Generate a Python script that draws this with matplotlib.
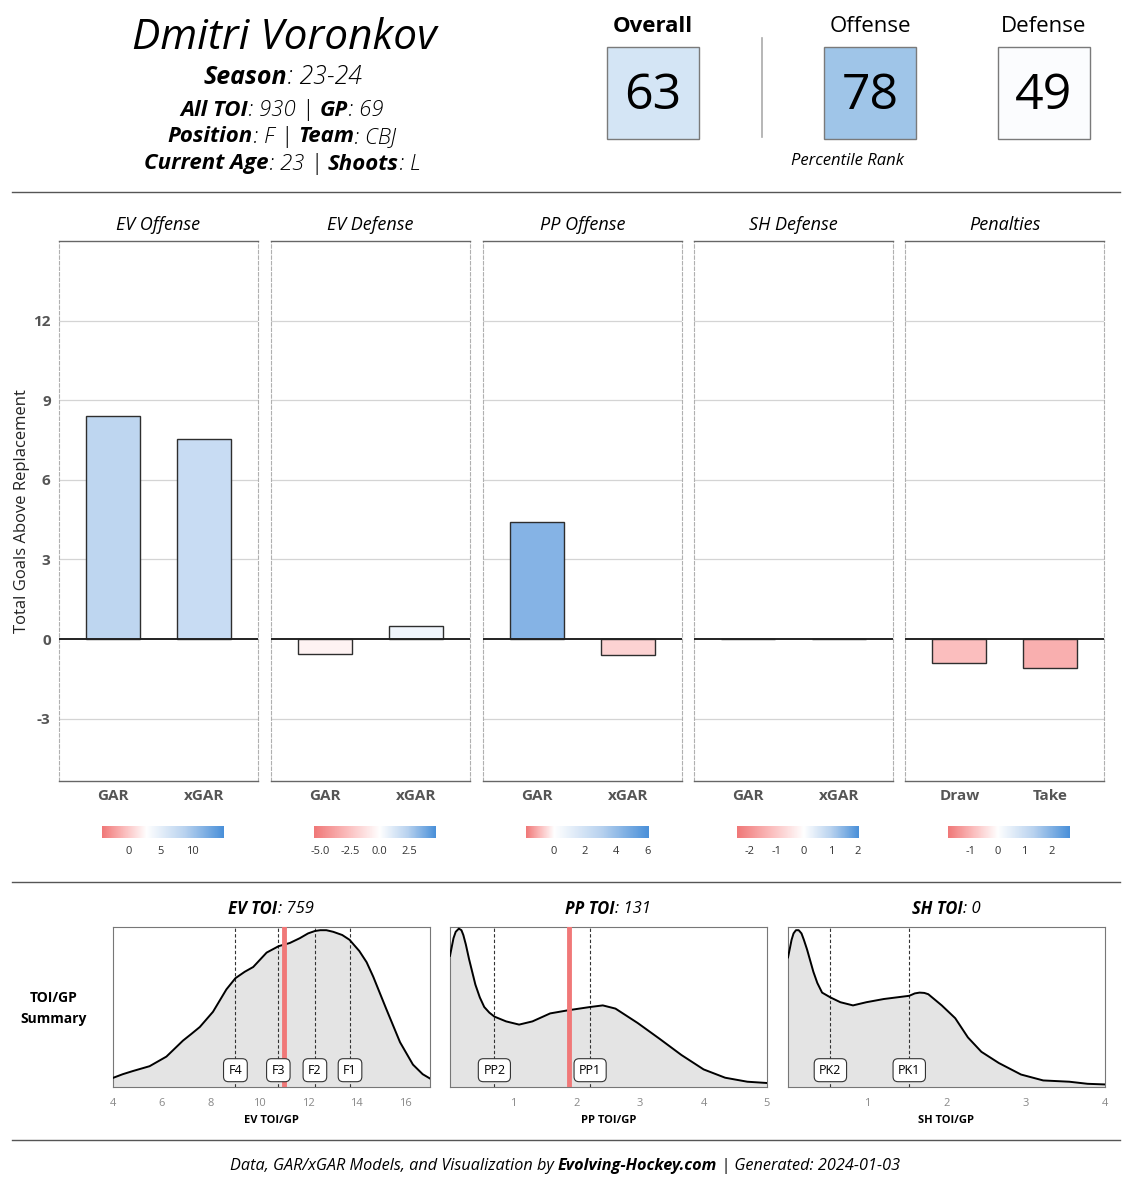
import numpy as np
import matplotlib
matplotlib.use("Agg")
import matplotlib.pyplot as plt
from matplotlib.colors import LinearSegmentedColormap, TwoSlopeNorm
from matplotlib.patches import Rectangle
from matplotlib.lines import Line2D

plt.rcParams['font.family'] = ['Open Sans', 'DejaVu Sans']

W, H = 1129, 1200

# ---- data ----
player = "Dmitri Voronkov"
season = "23-24"
all_toi, gp = 930, 69
position, team = "F", "CBJ"
age, shoots = 23, "L"

rank_labels = ["Overall", "Offense", "Defense"]
rank_values = [63, 78, 49]
rank_colors = ["#d4e5f5", "#9fc5e8", "#fbfcfe"]

panel_titles = ["EV Offense", "EV Defense", "PP Offense", "SH Defense", "Penalties"]
panel_cats = [["GAR", "xGAR"], ["GAR", "xGAR"], ["GAR", "xGAR"], ["GAR", "xGAR"], ["Draw", "Take"]]
panel_vals = [[8.4, 7.55], [-0.55, 0.5], [4.4, -0.6], [0.0, 0.0], [-0.9, -1.1]]

# colour scale range per panel (min, centre, max) and legend ticks
scale_min = [-4.2, -5.5, -1.8, -2.48, -1.86]
scale_mid = [2.8, 0.0, 0.0, 0.0, 0.0]
scale_max = [15.0, 4.7, 6.05, 2.04, 2.7]
scale_ticks = [[0, 5, 10], [-5.0, -2.5, 0.0, 2.5], [0, 2, 4, 6], [-2, -1, 0, 1, 2], [-1, 0, 1, 2]]
scale_labels = [["0", "5", "10"], ["-5.0", "-2.5", "0.0", "2.5"], ["0", "2", "4", "6"],
                ["-2", "-1", "0", "1", "2"], ["-1", "0", "1", "2"]]

# TOI/GP density curves (relative height)
ev_x = [4, 4.4, 4.82, 5.5, 6.19, 6.87, 7.2, 7.56, 8.1, 8.65, 9.02, 9.4, 9.75, 10.3, 10.79,
        11.25, 11.66, 12.0, 12.28, 12.5, 12.75, 13.03, 13.4, 13.7, 14.1, 14.4, 14.67, 15.2,
        15.77, 16.3, 16.7, 17]
ev_y = [0.057, 0.08, 0.10, 0.13, 0.19, 0.29, 0.33, 0.375, 0.47, 0.61, 0.68, 0.72, 0.75, 0.84,
        0.88, 0.90, 0.93, 0.96, 0.975, 0.98, 0.98, 0.97, 0.95, 0.92, 0.85, 0.78, 0.69, 0.49,
        0.28, 0.14, 0.08, 0.053]
pp_x = [0, 0.03, 0.055, 0.09, 0.14, 0.18, 0.21, 0.25, 0.30, 0.35, 0.40, 0.47, 0.54, 0.62,
        0.70, 0.885, 1.09, 1.30, 1.58, 1.87, 2.21, 2.41, 2.61, 2.96, 3.31, 3.65, 4.0, 4.34,
        4.69, 5.0]
pp_y = [0.82, 0.88, 0.93, 0.97, 0.99, 0.98, 0.95, 0.89, 0.80, 0.72, 0.64, 0.56, 0.50, 0.465,
        0.44, 0.41, 0.39, 0.41, 0.46, 0.48, 0.50, 0.51, 0.49, 0.40, 0.30, 0.20, 0.11, 0.058,
        0.033, 0.025]
sh_x = [0, 0.025, 0.045, 0.07, 0.10, 0.135, 0.17, 0.20, 0.24, 0.28, 0.32, 0.37, 0.43, 0.535,
        0.66, 0.82, 0.99, 1.21, 1.53, 1.6, 1.66, 1.72, 1.77, 1.94, 2.11, 2.27, 2.44, 2.66,
        2.94, 3.22, 3.55, 3.78, 4.0]
sh_y = [0.81, 0.87, 0.92, 0.96, 0.98, 0.98, 0.96, 0.92, 0.86, 0.79, 0.72, 0.65, 0.59, 0.56,
        0.53, 0.51, 0.53, 0.55, 0.57, 0.585, 0.59, 0.588, 0.58, 0.51, 0.43, 0.31, 0.22, 0.15,
        0.078, 0.041, 0.033, 0.02, 0.016]

dens_titles = [("EV TOI", ": 759"), ("PP TOI", ": 131"), ("SH TOI", ": 0")]
dens_xlabels = ["EV TOI/GP", "PP TOI/GP", "SH TOI/GP"]
dens_lines = [[9.02, 10.78, 12.28, 13.72], [0.70, 2.21], [0.535, 1.53]]
dens_line_labels = [["F4", "F3", "F2", "F1"], ["PP2", "PP1"], ["PK2", "PK1"]]
player_toigp = [11.0, 1.87, None]

cmap = LinearSegmentedColormap.from_list(
    "gar", [(0, "#f07878"), (0.25, "#fbbcbc"), (0.5, "#ffffff"), (0.75, "#b8d2ef"), (1, "#4a90d9")])

fig = plt.figure(figsize=(W / 100, H / 100), dpi=100)


def fx(x):
    return x / W


def fy(y):
    return 1 - y / H


def rich(x, y, parts, size):
    # draw pieces of text with mixed weight/style, centred on x
    texts = []
    for s, w, st in parts:
        texts.append(fig.text(0, fy(y), s, fontsize=size, fontweight=w, fontstyle=st,
                              ha='left', va='center'))
    r = fig.canvas.get_renderer()
    widths = [t.get_window_extent(r).width / fig.bbox.width for t in texts]
    cur = fx(x) - sum(widths) / 2
    for t, wd in zip(texts, widths):
        t.set_x(cur)
        cur += wd


# ---- header ----
fig.text(fx(284), fy(38), player, fontsize=30.5, fontstyle='italic', ha='center', va='center')
rich(283, 77, [("Season", 'bold', 'italic'), (": " + season, 'light', 'italic')], 18)
rich(282, 110, [("All TOI", 'bold', 'italic'), (": %d | " % all_toi, 'light', 'italic'),
                ("GP", 'bold', 'italic'), (": %d" % gp, 'light', 'italic')], 16)
rich(282, 137, [("Position", 'bold', 'italic'), (": %s | " % position, 'light', 'italic'),
                ("Team", 'bold', 'italic'), (": " + team, 'light', 'italic')], 16)
rich(282, 164, [("Current Age", 'bold', 'italic'), (": %d | " % age, 'light', 'italic'),
                ("Shoots", 'bold', 'italic'), (": " + shoots, 'light', 'italic')], 16)

box_x = [607, 824, 998]
for i in range(3):
    fig.add_artist(Rectangle((fx(box_x[i]), fy(139)), 92 / W, 92 / H, transform=fig.transFigure,
                             facecolor=rank_colors[i], edgecolor='#7a7a7a', lw=1))
    fig.text(fx(box_x[i] + 46), fy(96), str(rank_values[i]), fontsize=36, ha='center', va='center')
    fig.text(fx(box_x[i] + 46), fy(26), rank_labels[i], fontsize=16,
             fontweight='bold' if i == 0 else 'normal', ha='center', va='center')
fig.add_artist(Line2D([fx(762), fx(762)], [fy(38), fy(137)], color='#aaaaaa', lw=1.2))
fig.text(fx(847), fy(161), "Percentile Rank", fontsize=12, fontstyle='italic', ha='center', va='center')

for yy in [192, 882, 1140]:
    fig.add_artist(Line2D([fx(12), fx(1120)], [fy(yy), fy(yy)], color='#555555', lw=1))

# ---- GAR panels ----
px0 = [59, 271, 483, 694, 905]
pw = 199
for i in range(5):
    ax = fig.add_axes([fx(px0[i]), fy(781), pw / W, 540 / H])
    norm = TwoSlopeNorm(vcenter=scale_mid[i], vmin=scale_min[i], vmax=scale_max[i])
    pos = np.arange(1, len(panel_cats[i]) + 1)
    for yv in [-3, 3, 6, 9, 12]:
        ax.axhline(yv, color='#d4d4d4', lw=0.9, zorder=0)
    ax.bar(pos, panel_vals[i], width=0.6, color=cmap(norm(np.array(panel_vals[i]))),
           edgecolor='#2e2e2e', lw=1, zorder=2)
    ax.axhline(0, color='#222222', lw=1.4, zorder=3)
    ax.set_xlim(0.4, 2.6)
    ax.set_ylim(-5.35, 15)
    ax.set_xticks(pos)
    ax.set_xticklabels(panel_cats[i], fontsize=11, fontweight='bold', color='#555555')
    ax.set_yticks([-3, 0, 3, 6, 9, 12])
    if i == 0:
        ax.set_yticklabels(['-3', '0', '3', '6', '9', '12'], fontsize=11, fontweight='bold', color='#555555')
    else:
        ax.set_yticklabels([])
    ax.tick_params(length=0, pad=6)
    for s in ['left', 'right']:
        ax.spines[s].set_linestyle((0, (3, 2)))
        ax.spines[s].set_color('#b0b0b0')
        ax.spines[s].set_linewidth(0.8)
    for s in ['top', 'bottom']:
        ax.spines[s].set_color('#666666')
        ax.spines[s].set_linewidth(1)
    ax.set_title(panel_titles[i], fontsize=13, fontstyle='italic', pad=8)

    # colour legend
    cx0 = px0[i] + 43
    cax = fig.add_axes([fx(cx0), fy(838), 122 / W, 12 / H])
    grad = np.linspace(scale_min[i], scale_max[i], 300)[None, :]
    cax.imshow(grad, cmap=cmap, norm=norm, aspect='auto',
               extent=[scale_min[i], scale_max[i], 0, 1])
    cax.set_xlim(scale_min[i], scale_max[i])
    cax.set_yticks([])
    cax.set_xticks(scale_ticks[i])
    cax.set_xticklabels(scale_labels[i], fontsize=8, color='#333333')
    cax.tick_params(length=0, pad=6)
    for s in cax.spines.values():
        s.set_visible(False)

fig.text(fx(22), fy(511), "Total Goals Above Replacement", rotation=90, fontsize=12,
         ha='center', va='center', color='#222222')

# ---- TOI/GP density panels ----
dx0 = [113, 450, 788]
dxlim = [(4, 17), (0, 5), (0, 4)]
dxticks = [[4, 6, 8, 10, 12, 14, 16], [1, 2, 3, 4, 5], [1, 2, 3, 4]]
curves = [(ev_x, ev_y), (pp_x, pp_y), (sh_x, sh_y)]
for i in range(3):
    ax = fig.add_axes([fx(dx0[i]), fy(1087), 317 / W, 160 / H])
    xs, ys = curves[i]
    ax.fill_between(xs, ys, 0, color='#e4e4e4', zorder=1)
    ax.plot(xs, ys, color='black', lw=1.4, zorder=3, solid_joinstyle='round')
    for xv in dens_lines[i]:
        ax.axvline(xv, color='#333333', ls=(0, (3, 2)), lw=0.8, zorder=2)
    if player_toigp[i] is not None:
        ax.axvline(player_toigp[i], color='#f07878', lw=3.5, zorder=4)
    for xv, lab in zip(dens_lines[i], dens_line_labels[i]):
        ax.text(xv, 0.105, lab, fontsize=9, ha='center', va='center', zorder=5,
                bbox=dict(boxstyle='round,pad=0.4', fc='white', ec='#333333', lw=0.8))
    ax.set_xlim(*dxlim[i])
    ax.set_ylim(0, 1)
    ax.set_yticks([])
    ax.set_xticks(dxticks[i])
    ax.set_xticklabels([str(t) for t in dxticks[i]], fontsize=8, color='#888888')
    ax.tick_params(length=0, pad=8)
    ax.set_xlabel(dens_xlabels[i], fontsize=8, fontweight='bold', labelpad=4)
    for s in ax.spines.values():
        s.set_color('#777777')
        s.set_linewidth(0.8)
    rich(dx0[i] + 158, 909, [(dens_titles[i][0], 'bold', 'italic'),
                             (dens_titles[i][1], 'normal', 'italic')], 12)

fig.text(fx(54), fy(998), "TOI/GP", fontsize=10, fontweight='bold', ha='center', va='center')
fig.text(fx(54), fy(1019), "Summary", fontsize=10, fontweight='bold', ha='center', va='center')

# ---- footer ----
rich(565, 1166, [("Data, GAR/xGAR Models, and Visualization by ", 'normal', 'italic'),
                 ("Evolving-Hockey.com", 'bold', 'italic'),
                 (" | Generated: 2024-01-03", 'normal', 'italic')], 11.7)

fig.savefig("out.png", dpi=100)
